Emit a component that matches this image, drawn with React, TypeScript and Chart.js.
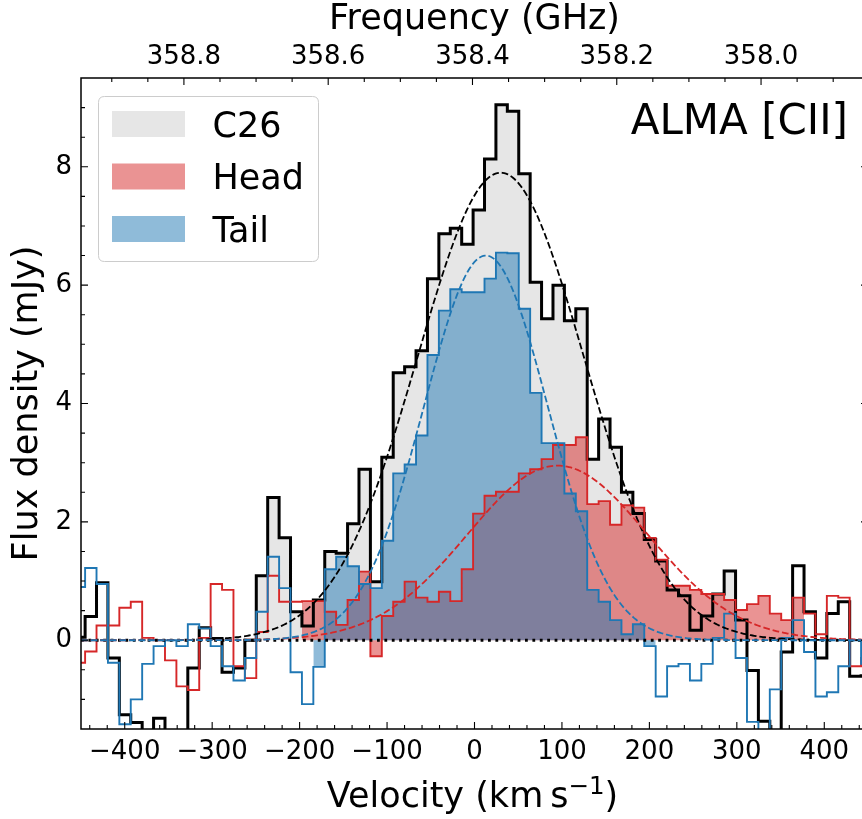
import React, { useEffect, useRef } from "react";
import { Chart, registerables } from "chart.js";

Chart.register(...registerables);

// ---------- data ----------
const VELOCITY_KMS = [
  -451.8, -438.8, -425.7, -412.7, -399.6, -386.6, -373.5, -360.5, -347.4, -334.4,
  -321.3, -308.3, -295.2, -282.2, -269.1, -256.1, -243.0, -230.0, -216.9, -203.9,
  -190.8, -177.8, -164.7, -151.7, -138.6, -125.6, -112.5, -99.5, -86.4, -73.4,
  -60.3, -47.3, -34.2, -21.2, -8.1, 4.9, 18.0, 31.0, 44.1, 57.1,
  70.2, 83.2, 96.3, 109.3, 122.4, 135.4, 148.5, 161.5, 174.6, 187.6,
  200.7, 213.7, 226.8, 239.8, 252.9, 265.9, 279.0, 292.0, 305.1, 318.1,
  331.2, 344.2, 357.3, 370.3, 383.4, 396.4, 409.5, 422.5, 435.6, 448.6,
];

const FLUX_C26 = [
  0.05, 0.4, 0.97, -0.3, -1.26, -1.39, -1.55, -1.32, -1.65, -1.65,
  -0.47, 0.21, 0.03, -0.54, -0.47, 0.0, 1.09, 2.41, 1.73, 0.48,
  0.24, 0.68, 1.5, 1.47, 1.97, 2.89, 0.99, 3.09, 4.52, 4.62,
  4.89, 6.11, 6.87, 6.96, 6.69, 7.27, 8.13, 9.05, 8.94, 7.88,
  6.05, 5.43, 6.0, 5.4, 5.6, 3.06, 3.74, 3.26, 2.5, 2.14,
  1.7, 1.34, 0.85, 0.75, 0.17, 0.41, 0.78, 1.17, 0.34, -0.51,
  -1.37, -1.65, -0.2, 1.26, 0.48, -0.3, 0.45, 0.65, -0.61, -0.6,
];

const FLUX_HEAD = [
  -0.38, -0.19, 0.25, 0.25, 0.55, 0.65, 0.04, 0.0, -0.34, -0.78,
  -0.84, 0.04, 0.95, 0.85, -0.44, -0.64, 0.14, 1.09, 0.65, 0.65,
  0.66, 0.66, 0.48, 0.26, 0.68, 1.16, -0.27, 0.41, 0.65, 0.99,
  0.72, 0.65, 0.82, 0.66, 1.2, 2.14, 2.44, 2.51, 2.51, 2.82,
  2.89, 3.06, 3.3, 3.3, 3.43, 2.3, 2.35, 1.95, 2.28, 2.24,
  1.73, 1.36, 0.92, 0.92, 0.85, 0.78, 0.78, 0.68, 0.51, 0.61,
  0.75, 0.45, 0.34, 0.72, 0.45, 0.1, 0.75, 0.72, -0.44, -0.3,
];

const FLUX_TAIL = [
  0.9, 1.22, 0.95, -0.38, -1.42, -1.0, -0.4, -0.1, 0.0, -0.1,
  0.27, 0.2, -0.1, -0.44, -0.68, -0.3, 0.48, 1.41, 0.88, -0.54,
  -1.08, -0.45, 1.2, 1.41, 1.25, 0.95, 0.88, 1.68, 2.82, 2.97,
  3.46, 4.82, 5.57, 5.93, 5.88, 5.88, 6.11, 6.55, 6.54, 5.6,
  4.18, 3.33, 3.33, 2.48, 2.18, 0.85, 0.65, 0.34, 0.1, 0.27,
  -0.1, -0.95, -0.44, -0.4, -0.68, -0.4, 0.04, 0.45, -0.3, -1.38,
  -1.65, -0.83, 0.04, 0.34, -0.2, -0.95, -0.88, -0.44, 0.0, -0.4,
];

// velocity ranges (bin centres) that are shaded
const FILL_RANGE_C26: [number, number] = [-250, 300];
const FILL_RANGE_HEAD: [number, number] = [-197, 375];
const FILL_RANGE_TAIL: [number, number] = [-185, 205];

// Gaussian fit parameters (amplitude mJy, centre km/s, sigma km/s)
const FIT_C26 = { amp: 7.9, center: 30, sigma: 95 };
const FIT_HEAD = { amp: 2.95, center: 95, sigma: 103 };
const FIT_TAIL = { amp: 6.5, center: 13, sigma: 71 };

const X_MIN = -450;
const X_MAX = 450;
const Y_MIN = -1.5;
const Y_MAX = 9.5;
const X_TICKS = [-400, -300, -200, -100, 0, 100, 200, 300, 400];
const Y_TICKS = [0, 2, 4, 6, 8];
const FREQ_TICKS = [358.8, 358.6, 358.4, 358.2, 358.0];
const FREQ_AT_ZERO_GHZ = 358.3972;
const VEL_PER_GHZ = 825;

const LEGEND_LABELS = ["C26", "Head", "Tail"];
const ANNOTATION = "ALMA [CII]";
const X_TITLE = ["Velocity (km\u2009s", "\u22121", ")"];

// ---------- helpers ----------
const FONT = "DejaVu Sans";
const GRAY_FILL = "rgba(128,128,128,0.2)";
const RED = "#d62728";
const RED_FILL = "rgba(214,39,40,0.5)";
const BLUE = "#1f77b4";
const BLUE_FILL = "rgba(31,119,180,0.5)";

const freqToVel = (f: number) => (FREQ_AT_ZERO_GHZ - f) * VEL_PER_GHZ;

function binEdges(c: number[]): number[] {
  const n = c.length;
  const e = [c[0] - (c[1] - c[0]) / 2];
  for (let i = 1; i < n; i++) e.push((c[i - 1] + c[i]) / 2);
  e.push(c[n - 1] + (c[n - 1] - c[n - 2]) / 2);
  return e;
}

function stepPoints(flux: number[], range?: [number, number]) {
  const edges = binEdges(VELOCITY_KMS);
  const pts: { x: number; y: number }[] = [];
  for (let i = 0; i < flux.length; i++) {
    const v = VELOCITY_KMS[i];
    if (range && (v < range[0] || v > range[1])) continue;
    pts.push({ x: edges[i], y: flux[i] }, { x: edges[i + 1], y: flux[i] });
  }
  return pts;
}

function gaussianPoints(fit: { amp: number; center: number; sigma: number }) {
  const pts: { x: number; y: number }[] = [];
  for (let i = 0; i <= 450; i++) {
    const v = X_MIN + i * 2;
    const z = (v - fit.center) / fit.sigma;
    pts.push({ x: v, y: fit.amp * Math.exp(-0.5 * z * z) });
  }
  return pts;
}

const fmtMinus = (v: number) => (v < 0 ? "\u2212" + Math.abs(v) : String(v));

const decorPlugin = {
  id: "decor",
  afterDraw(chart: any) {
    const { ctx, chartArea: a, scales } = chart;
    const xs = scales.x;
    const ys = scales.y;
    ctx.save();
    ctx.strokeStyle = "#000";
    ctx.lineWidth = 1.1;
    ctx.beginPath();
    // bottom velocity ticks
    for (let i = -22; i <= 22; i++) {
      const v = i * 20;
      const px = xs.getPixelForValue(v);
      if (px <= a.left + 1 || px >= a.right - 1) continue;
      const len = v % 100 === 0 ? 7 : 4;
      ctx.moveTo(px, a.bottom);
      ctx.lineTo(px, a.bottom - len);
    }
    // top frequency ticks
    for (let i = 7157; i <= 7179; i++) {
      const f = i * 0.05;
      const px = xs.getPixelForValue(freqToVel(f));
      if (px <= a.left + 1 || px >= a.right - 1) continue;
      const len = i % 4 === 0 ? 7 : 4;
      ctx.moveTo(px, a.top);
      ctx.lineTo(px, a.top + len);
    }
    // left/right y ticks
    for (let i = -2; i <= 18; i++) {
      const v = i * 0.5;
      const py = ys.getPixelForValue(v);
      if (py <= a.top + 1 || py >= a.bottom - 1) continue;
      const len = Math.abs(v % 2) < 1e-9 ? 7 : 4;
      ctx.moveTo(a.left, py);
      ctx.lineTo(a.left + len, py);
      ctx.moveTo(a.right, py);
      ctx.lineTo(a.right - len, py);
    }
    ctx.stroke();

    // spines
    ctx.lineWidth = 1.5;
    ctx.strokeRect(a.left, a.top, a.right - a.left, a.bottom - a.top);

    // legend
    const lx = 98.5, ly = 96.5, lw = 220, lh = 165, r = 6;
    ctx.beginPath();
    ctx.moveTo(lx + r, ly);
    ctx.lineTo(lx + lw - r, ly);
    ctx.quadraticCurveTo(lx + lw, ly, lx + lw, ly + r);
    ctx.lineTo(lx + lw, ly + lh - r);
    ctx.quadraticCurveTo(lx + lw, ly + lh, lx + lw - r, ly + lh);
    ctx.lineTo(lx + r, ly + lh);
    ctx.quadraticCurveTo(lx, ly + lh, lx, ly + lh - r);
    ctx.lineTo(lx, ly + r);
    ctx.quadraticCurveTo(lx, ly, lx + r, ly);
    ctx.closePath();
    ctx.fillStyle = "rgba(255,255,255,0.8)";
    ctx.fill();
    ctx.strokeStyle = "#cccccc";
    ctx.lineWidth = 1;
    ctx.stroke();

    const swatches = [GRAY_FILL, RED_FILL, BLUE_FILL];
    const baselines = [136.5, 189, 241.5];
    ctx.font = `35px '${FONT}'`;
    ctx.textAlign = "left";
    ctx.textBaseline = "alphabetic";
    for (let i = 0; i < LEGEND_LABELS.length; i++) {
      ctx.fillStyle = swatches[i];
      ctx.fillRect(112, baselines[i] - 25.5, 73, 26);
      ctx.fillStyle = "#000";
      ctx.fillText(LEGEND_LABELS[i], 212.5, baselines[i]);
    }

    // annotation
    ctx.font = `42px '${FONT}'`;
    ctx.textAlign = "right";
    ctx.fillStyle = "#000";
    ctx.fillText(ANNOTATION, 848, 134);

    // bottom axis title with superscript
    const mainFont = `35px '${FONT}'`;
    const supFont = `24.5px '${FONT}'`;
    ctx.textAlign = "left";
    ctx.font = mainFont;
    const w0 = ctx.measureText(X_TITLE[0]).width;
    const w2 = ctx.measureText(X_TITLE[2]).width;
    ctx.font = supFont;
    const w1 = ctx.measureText(X_TITLE[1]).width;
    const total = w0 + w1 + w2;
    let tx = (a.left + a.right) / 2 - 2 - total / 2;
    const base = 807;
    ctx.font = mainFont;
    ctx.fillText(X_TITLE[0], tx, base);
    tx += w0;
    ctx.font = supFont;
    ctx.fillText(X_TITLE[1], tx, base - 13);
    tx += w1;
    ctx.font = mainFont;
    ctx.fillText(X_TITLE[2], tx, base);
    ctx.restore();
  },
};

export default function App() {
  const ref = useRef<HTMLCanvasElement | null>(null);

  useEffect(() => {
    if (!ref.current) return;
    Chart.defaults.font.family = FONT;
    Chart.defaults.color = "#000";

    const base = { pointRadius: 0, tension: 0, parsing: false as const, borderJoinStyle: "miter" as const };
    const fillSet = (pts: any, color: string) => ({
      ...base,
      data: pts,
      borderColor: "rgba(0,0,0,0)",
      borderWidth: 0,
      backgroundColor: color,
      fill: "origin",
    });
    const lineSet = (pts: any, color: string, width: number, dash: number[] = []) => ({
      ...base,
      data: pts,
      borderColor: color,
      borderWidth: width,
      borderDash: dash,
      fill: false,
    });

    const datasets: any[] = [
      fillSet(stepPoints(FLUX_C26, FILL_RANGE_C26), GRAY_FILL),
      fillSet(stepPoints(FLUX_HEAD, FILL_RANGE_HEAD), RED_FILL),
      fillSet(stepPoints(FLUX_TAIL, FILL_RANGE_TAIL), BLUE_FILL),
      lineSet(stepPoints(FLUX_C26), "#000", 3),
      lineSet(stepPoints(FLUX_HEAD), RED, 1.9),
      lineSet(stepPoints(FLUX_TAIL), BLUE, 1.9),
      lineSet([{ x: X_MIN, y: 0 }, { x: X_MAX, y: 0 }], "#000", 2.8, [2.8, 4.6]),
      lineSet(gaussianPoints(FIT_C26), "#000", 1.8, [6.7, 2.9]),
      lineSet(gaussianPoints(FIT_HEAD), RED, 1.8, [6.7, 2.9]),
      lineSet(gaussianPoints(FIT_TAIL), BLUE, 1.8, [6.7, 2.9]),
    ];
    datasets.forEach((d, i) => (d.order = datasets.length - i));

    const tickFont = { family: FONT, size: 26 };
    const titleFont = { family: FONT, size: 35 };

    const chart = new Chart(ref.current, {
      type: "line",
      data: { datasets },
      plugins: [decorPlugin],
      options: {
        animation: false,
        responsive: false,
        devicePixelRatio: 1,
        layout: { padding: { left: 0, right: 2, top: 0, bottom: 0 } },
        plugins: { legend: { display: false }, tooltip: { enabled: false } },
        scales: {
          x: {
            type: "linear",
            position: "bottom",
            min: X_MIN,
            max: X_MAX,
            grid: { display: false, drawTicks: false },
            border: { display: false },
            afterBuildTicks: (s: any) => {
              s.ticks = X_TICKS.map((v) => ({ value: v }));
            },
            afterFit: (s: any) => {
              s.height = 90;
            },
            ticks: {
              font: tickFont,
              padding: 8,
              maxRotation: 0,
              autoSkip: false,
              callback: (v: any) => fmtMinus(Number(v)),
            },
            title: { display: false },
          },
          x2: {
            type: "linear",
            position: "top",
            min: X_MIN,
            max: X_MAX,
            grid: { display: false, drawTicks: false },
            border: { display: false },
            afterBuildTicks: (s: any) => {
              s.ticks = FREQ_TICKS.map((f) => ({ value: freqToVel(f) }));
            },
            afterFit: (s: any) => {
              s.height = 78;
            },
            ticks: {
              font: tickFont,
              padding: 5.5,
              maxRotation: 0,
              autoSkip: false,
              callback: (_v: any, i: number) => FREQ_TICKS[i].toFixed(1),
            },
            title: {
              display: true,
              text: "Frequency (GHz)",
              font: titleFont,
              padding: { top: -1, bottom: 0 },
            },
          },
          y: {
            type: "linear",
            min: Y_MIN,
            max: Y_MAX,
            grid: { display: false, drawTicks: false },
            border: { display: false },
            afterBuildTicks: (s: any) => {
              s.ticks = Y_TICKS.map((v) => ({ value: v }));
            },
            afterFit: (s: any) => {
              s.width = 81;
            },
            ticks: {
              font: tickFont,
              padding: 9,
              autoSkip: false,
              callback: (v: any) => fmtMinus(Number(v)),
            },
            title: {
              display: true,
              text: "Flux density (mJy)",
              font: titleFont,
              padding: { top: 7, bottom: 0 },
            },
          },
        },
      } as any,
    });
    return () => chart.destroy();
  }, []);

  return (
    <div
      style={{
        position: "absolute",
        left: 0,
        top: 0,
        width: 862,
        height: 819,
        overflow: "hidden",
        background: "#fff",
      }}
    >
      <canvas ref={ref} width={870} height={819} style={{ display: "block" }} />
    </div>
  );
}
